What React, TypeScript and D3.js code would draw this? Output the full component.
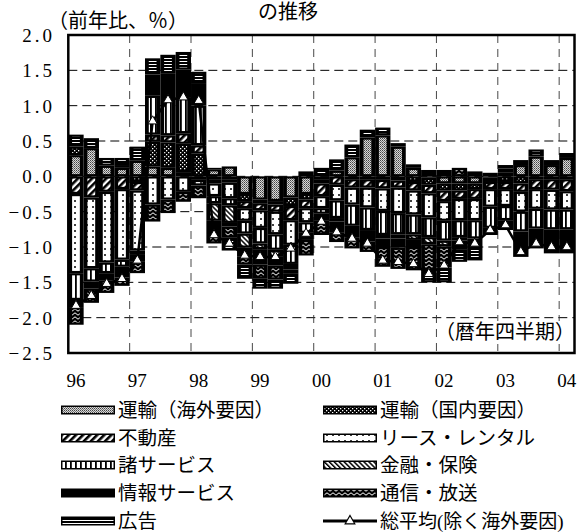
import * as d3 from 'd3';

const quarters = [
  '96Q1', '96Q2', '96Q3', '96Q4', '97Q1', '97Q2', '97Q3', '97Q4',
  '98Q1', '98Q2', '98Q3', '98Q4', '99Q1', '99Q2', '99Q3', '99Q4',
  '00Q1', '00Q2', '00Q3', '00Q4', '01Q1', '01Q2', '01Q3', '01Q4',
  '02Q1', '02Q2', '02Q3', '02Q4', '03Q1', '03Q2', '03Q3', '03Q4', '04Q1',
];
const yearLabels = ['96', '97', '98', '99', '00', '01', '02', '03', '04'];
const yTicks = [2.0, 1.5, 1.0, 0.5, 0.0, -0.5, -1.0, -1.5, -2.0, -2.5];

// 寄与度（前年比、%ポイント）
const kaigai = [0.30, 0.40, 0.15, 0.12, 0.22, 0.14, 0.12, 0.06, -0.05, 0.10, 0.14, -0.25, -0.33, -0.35, -0.30, -0.25, -0.05, 0.08, 0.27, 0.55, 0.58, 0.42, 0.12, -0.02, -0.10, -0.10, -0.10, -0.02, 0.05, 0.16, 0.28, 0.16, 0.26];
const kokunai = [0.12, 0, 0, 0.04, -0.08, 0.35, 0.36, 0.40, 0.32, -0.05, -0.04, -0.10, -0.05, -0.05, -0.12, -0.08, -0.05, 0, -0.04, -0.04, -0.05, -0.06, -0.08, -0.10, -0.10, -0.10, -0.08, -0.06, -0.08, -0.10, -0.04, -0.04, -0.04];
const fudosan = [-0.25, -0.30, -0.22, -0.18, -0.12, 0.10, 0.10, 0.15, 0.12, -0.05, -0.05, -0.10, -0.10, -0.10, -0.20, -0.12, -0.18, -0.12, -0.12, -0.12, -0.12, -0.10, -0.12, -0.12, -0.15, -0.12, -0.14, -0.10, -0.10, -0.12, -0.14, -0.15, -0.17];
const lease = [-1.12, -1.00, -1.00, -1.00, -0.85, -0.40, -0.33, -0.22, -0.08, -0.18, -0.22, -0.18, -0.25, -0.32, -0.35, -0.20, -0.17, -0.22, -0.24, -0.28, -0.32, -0.36, -0.34, -0.34, -0.28, -0.30, -0.30, -0.25, -0.24, -0.28, -0.28, -0.28, -0.26];
const shoserv = [-0.38, -0.19, -0.15, -0.10, 0, 0.55, 0.50, 0.50, 0.56, -0.10, -0.10, -0.18, -0.22, -0.22, -0.27, -0.15, -0.08, -0.25, -0.30, -0.32, -0.34, -0.30, -0.28, -0.28, -0.28, -0.24, -0.26, -0.30, -0.20, -0.28, -0.28, -0.28, -0.28];
const kinyu = [0, 0, 0, 0, -0.05, 0, 0, 0, 0, -0.25, -0.25, -0.20, -0.08, -0.10, 0, 0, 0, -0.05, 0, 0, -0.05, -0.06, -0.08, -0.10, -0.08, -0.05, 0, 0, 0, -0.05, 0, 0, 0];
const joho = [-0.10, -0.10, -0.10, -0.15, -0.10, 0.30, 0.38, 0.40, 0.32, -0.20, -0.05, -0.12, -0.22, -0.12, -0.08, -0.10, -0.10, -0.15, -0.17, -0.16, -0.12, -0.13, -0.10, 0.09, 0.09, -0.12, -0.12, -0.10, -0.14, -0.31, -0.28, -0.34, -0.34];
const tsushin = [-0.25, -0.20, -0.18, -0.12, -0.17, -0.24, -0.19, -0.14, -0.18, -0.12, -0.16, -0.12, -0.20, -0.20, -0.05, -0.22, -0.20, -0.14, -0.15, -0.15, -0.28, -0.30, -0.33, -0.38, -0.30, 0.12, 0.07, 0.05, 0.06, 0, 0, 0, 0];
const kokoku = [0.17, 0.14, 0.11, 0.10, 0.20, 0.23, 0.26, 0.25, 0.16, 0.02, -0.18, -0.20, -0.14, -0.13, -0.15, 0.07, 0.12, 0.16, 0.18, 0.11, 0.11, 0.05, 0.05, -0.16, -0.21, -0.18, -0.19, 0, 0.05, 0.07, 0.10, 0.07, 0.07];
// 総平均（除く海外要因）
const totalAvg = [-1.83, -1.69, -1.52, -1.45, -1.19, 0.78, 1.08, 1.12, 1.07, -0.83, -0.95, -1.12, -1.14, -1.14, -1.02, -0.81, -0.64, -0.79, -0.88, -0.95, -1.19, -1.21, -1.24, -1.38, -1.26, -0.93, -0.95, -0.76, -0.69, -1.07, -0.95, -1.00, -1.00];

const seriesKeys = ['kaigai', 'kokunai', 'fudosan', 'lease', 'shoserv', 'kinyu', 'joho', 'tsushin', 'kokoku'];
const seriesNames = ['運輸（海外要因）', '運輸（国内要因）', '不動産', 'リース・レンタル', '諸サービス', '金融・保険', '情報サービス', '通信・放送', '広告'];
const seriesValues = [kaigai, kokunai, fudosan, lease, shoserv, kinyu, joho, tsushin, kokoku];
const lineName = '総平均(除く海外要因)';

const W = 579;
const H = 532;
const plot = { left: 68.3, right: 574.5, top: 35, bottom: 353 };
const numFont = 'Liberation Serif, DejaVu Serif, serif';
const jpFont = 'Liberation Serif, Noto Sans CJK JP, sans-serif';

const App = () => {
  const x = d3.scaleBand().domain(quarters).range([plot.left, plot.right]).padding(0);
  const y = d3.scaleLinear().domain([-2.5, 2]).range([plot.bottom, plot.top]);
  const bw = x.bandwidth();

  const rows = quarters.map((q, i) => {
    const r: any = { q };
    seriesKeys.forEach((k, j) => { r[k] = seriesValues[j][i]; });
    return r;
  });
  const stacked = d3.stack().keys(seriesKeys).offset(d3.stackOffsetDiverging)(rows);

  const segs: any[] = [];
  stacked.forEach(layer => {
    layer.forEach((d: any) => {
      if (d[0] === d[1]) return;
      const top = y(Math.max(d[0], d[1]));
      const bot = y(Math.min(d[0], d[1]));
      segs.push({ key: layer.key, x: x(d.data.q)!, top, h: bot - top });
    });
  });

  const cx = (q: string) => x(q)! + bw / 2;
  const line = d3.line<number>().x((_, i) => cx(quarters[i])).y(d => y(d));
  const tri = d3.symbol(d3.symbolTriangle, 38)()!;
  const triSmall = d3.symbol(d3.symbolTriangle, 40)()!;

  const hGrid = yTicks.filter(t => t < 2 && t > -2.5);
  const vGrid = yearLabels.slice(1).map(yl => x(yl + 'Q1')!);

  const ix = 3.8;
  const iy = 2.2;

  const legendRows = [410, 438, 465, 493, 521];
  const legendCols = [{ sx: 61, tx: 118 }, { sx: 323, tx: 380 }];
  const swW = 54;
  const swH = 9;

  return (
    <svg width={W} height={H} style={{ position: 'absolute', left: 0, top: 0, background: '#fff' }}>
      <defs>
        <pattern id="p-kaigai" width="2" height="2" patternUnits="userSpaceOnUse">
          <rect width="2" height="2" fill="#d8d8d8" />
          <rect x="0" y="0" width="1" height="1" fill="#444" />
          <rect x="1" y="1" width="1" height="1" fill="#777" />
        </pattern>
        <pattern id="p-kokunai" width="4" height="4" patternUnits="userSpaceOnUse">
          <rect width="4" height="4" fill="#000" />
          <rect x="0" y="0" width="1.3" height="1.3" fill="#fff" />
          <rect x="2" y="2" width="1.3" height="1.3" fill="#fff" />
        </pattern>
        <pattern id="p-fudosan" width="5" height="5" patternUnits="userSpaceOnUse" patternTransform="rotate(45)">
          <rect width="5" height="5" fill="#fff" />
          <rect width="2.6" height="5" fill="#000" />
        </pattern>
        <pattern id="p-lease" width="6" height="6" patternUnits="userSpaceOnUse">
          <rect width="6" height="6" fill="#fff" />
          <circle cx="3" cy="3" r="1" fill="#000" />
        </pattern>
        <pattern id="p-shoserv" width="5" height="5" patternUnits="userSpaceOnUse">
          <rect width="5" height="5" fill="#fff" />
          <rect width="1.8" height="5" fill="#000" />
        </pattern>
        <pattern id="p-kinyu" width="3.5" height="3.5" patternUnits="userSpaceOnUse" patternTransform="rotate(-45)">
          <rect width="3.5" height="3.5" fill="#fff" />
          <rect width="1.5" height="3.5" fill="#000" />
        </pattern>
        <pattern id="p-joho" width="4" height="4" patternUnits="userSpaceOnUse">
          <rect width="4" height="4" fill="#000" />
        </pattern>
        <pattern id="p-tsushin" width="6" height="4" patternUnits="userSpaceOnUse">
          <rect width="6" height="4" fill="#000" />
          <path d="M0,3.2 L3,0.8 L6,3.2" fill="none" stroke="#fff" strokeWidth="1" />
        </pattern>
        <pattern id="p-kokoku" width="4" height="3" patternUnits="userSpaceOnUse">
          <rect width="4" height="3" fill="#000" />
          <rect y="1" width="4" height="1" fill="#fff" />
        </pattern>
      </defs>

      {/* grid */}
      {hGrid.map(t => (
        <line key={'h' + t} x1={plot.left} x2={plot.right} y1={y(t)} y2={y(t)}
          stroke="#000" strokeWidth={1} strokeDasharray="9,5" />
      ))}
      {vGrid.map((gx, i) => (
        <line key={'v' + i} x1={gx} x2={gx} y1={plot.top} y2={plot.bottom}
          stroke="#333" strokeWidth={0.9} strokeDasharray="8,6" />
      ))}

      {/* bars */}
      {segs.map((s, i) => (
        <g key={'s' + i}>
          <rect x={s.x} y={s.top} width={bw} height={s.h} fill="#000" />
          {s.h > 2 * iy + 0.6 && s.key !== 'joho' && (
            <rect x={s.x + ix} y={s.top + iy} width={bw - 2 * ix} height={s.h - 2 * iy}
              fill={`url(#p-${s.key})`} />
          )}
        </g>
      ))}

      {/* 総平均 */}
      <path d={line(totalAvg)!} fill="none" stroke="#000" strokeWidth={2.5} />
      {totalAvg.map((v, i) => (
        <path key={'t' + i} d={tri} transform={`translate(${cx(quarters[i])},${y(v)})`}
          fill="#fff" stroke="#000" strokeWidth={1} />
      ))}

      {/* frame */}
      <rect x={plot.left} y={plot.top} width={plot.right - plot.left} height={plot.bottom - plot.top}
        fill="none" stroke="#000" strokeWidth={2.5} />

      <rect x={438} y={321} width={134} height={23} fill="#fff" />
      <text x={435} y={339} style={{ fontFamily: jpFont }} fontSize={20} fill="#000">（暦年四半期）</text>

      {/* y axis labels */}
      {yTicks.map(t => (
        <text key={'y' + t} x={55} y={y(t) + 7} textAnchor="end" style={{ fontFamily: numFont }}
          fontSize={19} letterSpacing={3} fill="#000">{t.toFixed(1).replace('-', '−')}</text>
      ))}
      <text x={48} y={28} style={{ fontFamily: jpFont }} fontSize={20} fill="#000">（前年比、％）</text>
      <text x={258} y={19} style={{ fontFamily: jpFont }} fontSize={20} fill="#000">の推移</text>

      {/* x axis labels */}
      {yearLabels.map(yl => (
        <text key={'x' + yl} x={cx(yl + 'Q1')} y={387} textAnchor="middle" style={{ fontFamily: numFont }}
          fontSize={19} fill="#000">{yl}</text>
      ))}

      {/* legend */}
      {seriesKeys.map((k, i) => {
        const col = legendCols[i % 2];
        const cy = legendRows[Math.floor(i / 2)];
        return (
          <g key={'l' + k}>
            <rect x={col.sx} y={cy - swH / 2} width={swW} height={swH} fill="#000" />
            <rect x={col.sx + 1.5} y={cy - swH / 2 + 1.5} width={swW - 3} height={swH - 3} fill={`url(#p-${k})`} />
            <text x={col.tx} y={cy + 7} style={{ fontFamily: jpFont }} fontSize={19.5} fill="#000">{seriesNames[i]}</text>
          </g>
        );
      })}
      <g>
        <line x1={legendCols[1].sx} x2={legendCols[1].sx + swW} y1={legendRows[4]} y2={legendRows[4]}
          stroke="#000" strokeWidth={3} />
        <path d={triSmall} transform={`translate(${legendCols[1].sx + swW / 2},${legendRows[4]})`}
          fill="#fff" stroke="#000" strokeWidth={1.2} />
        <text x={legendCols[1].tx} y={legendRows[4] + 7} style={{ fontFamily: jpFont }} fontSize={19} fill="#000">{lineName}</text>
      </g>
    </svg>
  );
};

export default App;
